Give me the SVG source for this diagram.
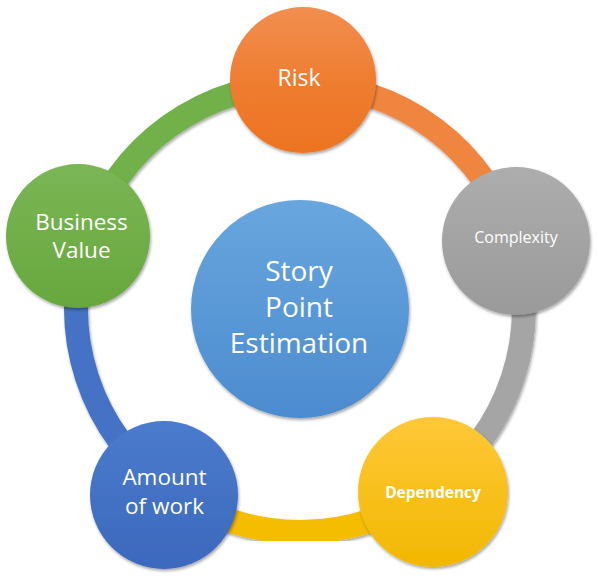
<svg xmlns="http://www.w3.org/2000/svg" width="598" height="576" viewBox="0 0 598 576">
<defs>
<filter id="sh" x="-20%" y="-20%" width="140%" height="140%">
<feDropShadow dx="1" dy="2" stdDeviation="1.5" flood-color="#000" flood-opacity="0.35"/>
</filter>
<linearGradient id="gOr" x1="0" y1="0" x2="0" y2="1"><stop offset="0" stop-color="#F28E50"/><stop offset="0.5" stop-color="#EF7D30"/><stop offset="1" stop-color="#EC7422"/></linearGradient>
<linearGradient id="gGy" x1="0" y1="0" x2="0" y2="1"><stop offset="0" stop-color="#ADADAD"/><stop offset="1" stop-color="#9A9A9A"/></linearGradient>
<linearGradient id="gYe" x1="0" y1="0" x2="0" y2="1"><stop offset="0" stop-color="#FFC838"/><stop offset="1" stop-color="#F1B800"/></linearGradient>
<linearGradient id="gBl" x1="0" y1="0" x2="0" y2="1"><stop offset="0" stop-color="#4A7BCC"/><stop offset="1" stop-color="#3D68BD"/></linearGradient>
<linearGradient id="gGr" x1="0" y1="0" x2="0" y2="1"><stop offset="0" stop-color="#7AB655"/><stop offset="1" stop-color="#68A73D"/></linearGradient>
<linearGradient id="gCe" x1="0" y1="0" x2="0" y2="1"><stop offset="0" stop-color="#68A6DE"/><stop offset="1" stop-color="#4C8BCF"/></linearGradient>
</defs>
<style>
.arc{fill:none;stroke-width:24;filter:url(#sh)}
.node{filter:url(#sh)}
.t{fill:#fff;font-family:"Open Sans","Noto Sans",sans-serif;text-anchor:middle}
</style>
<g id="connectors">
<path class="arc" stroke="#F08540" d="M303.1 84 A224 224 0 0 1 513.6 240.6"/>
<path class="arc" stroke="#A5A5A5" d="M513.6 240.6 A224 224 0 0 1 431.4 489.4"/>
<path class="arc" stroke="#F5BD00" d="M431.4 489.4 A224 224 0 0 1 168.3 489.2"/>
<path class="arc" stroke="#4472C4" d="M168.3 489.2 A224 224 0 0 1 86.9 238.8"/>
<path class="arc" stroke="#72B04A" d="M86.9 238.8 A224 224 0 0 1 303.1 84"/>
</g>
<g id="center">
<circle class="node" cx="300" cy="309" r="109" fill="url(#gCe)"/>
<text class="t" font-size="28" x="299" y="281">Story</text>
<text class="t" font-size="28" x="299" y="317">Point</text>
<text class="t" font-size="28" x="299" y="353">Estimation</text>
</g>
<g id="risk">
<circle class="node" cx="303" cy="80" r="73" fill="url(#gOr)"/>
<text class="t" font-size="23" x="299" y="86">Risk</text>
</g>
<g id="complexity">
<circle class="node" cx="516" cy="241" r="74" fill="url(#gGy)"/>
<text class="t" font-size="16" x="516" y="243">Complexity</text>
</g>
<g id="dependency">
<circle class="node" cx="433" cy="492" r="75" fill="url(#gYe)"/>
<text class="t" font-size="15.5" font-weight="bold" x="433" y="498">Dependency</text>
</g>
<g id="amount">
<circle class="node" cx="164" cy="495" r="74" fill="url(#gBl)"/>
<text class="t" font-size="22.5" x="164.5" y="485">Amount</text>
<text class="t" font-size="22.5" x="164.5" y="514">of work</text>
</g>
<g id="business">
<circle class="node" cx="78" cy="236" r="72" fill="url(#gGr)"/>
<text class="t" font-size="22.5" x="81.5" y="230">Business</text>
<text class="t" font-size="22.5" x="81.5" y="258">Value</text>
</g>
</svg>
